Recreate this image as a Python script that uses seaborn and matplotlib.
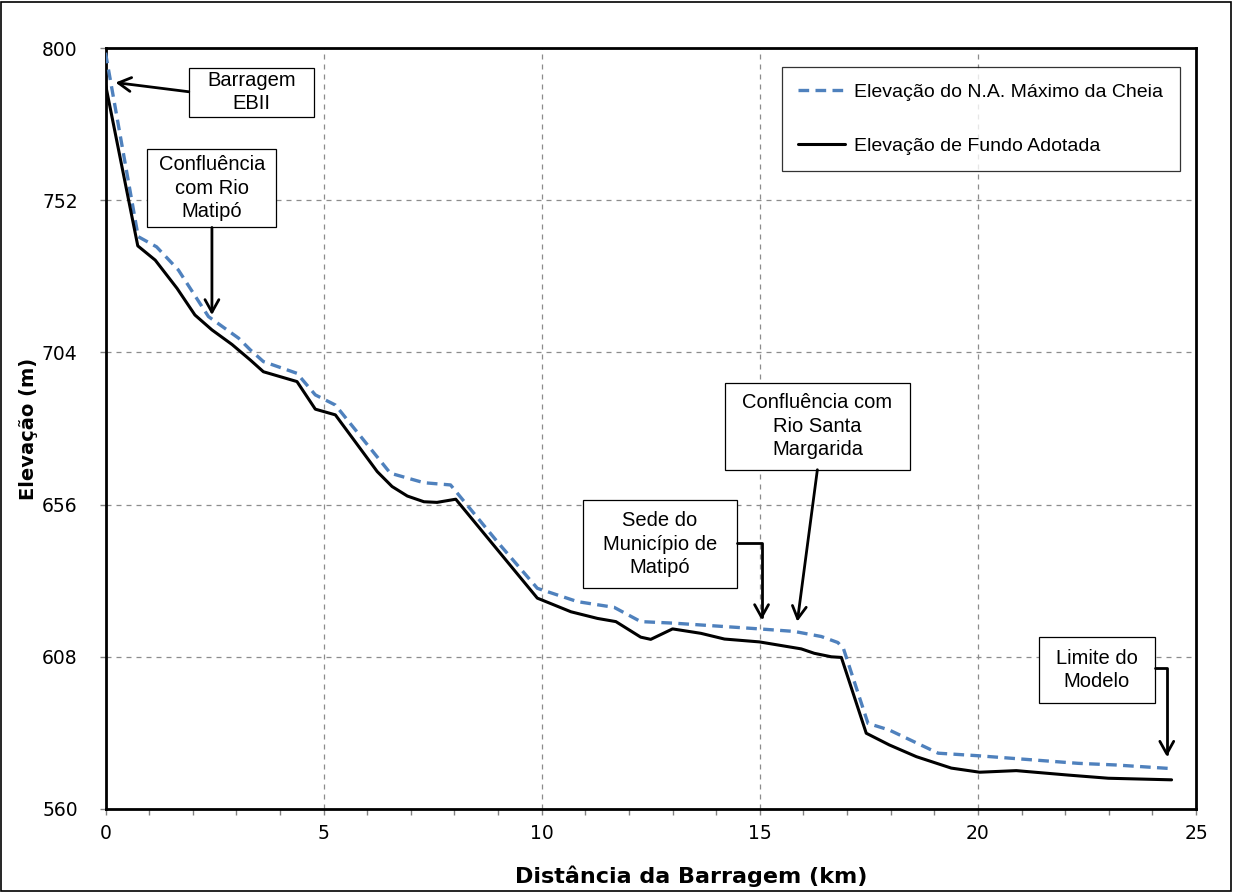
import matplotlib
matplotlib.use("Agg")
import matplotlib.pyplot as plt
import seaborn as sns
import pandas as pd
from matplotlib.patches import Rectangle

# Perfil longitudinal: elevação do N.A. máximo da cheia
km_nivel = [0.0, 0.75, 1.17, 1.67, 2.36, 3.05, 3.32, 3.62, 4.39, 4.81, 5.27,
            6.53, 7.30, 7.91, 9.00, 9.90, 10.82, 11.66, 12.27, 13.04, 14.99,
            15.79, 16.41, 16.79, 16.92, 17.48, 17.97, 19.09, 20.00, 22.30,
            23.14, 24.37]
elev_nivel = [798.5, 740.5, 737.3, 730.0, 715.3, 708.5, 704.8, 701.1, 697.4,
              690.6, 687.4, 665.9, 662.9, 662.2, 644.0, 629.6, 625.4, 623.6,
              619.1, 618.6, 616.8, 616.0, 614.4, 612.5, 610.5, 587.0, 584.9,
              577.6, 576.8, 574.4, 573.9, 572.8]

# Perfil longitudinal: elevação de fundo adotada
km_fundo = [0.0, 0.74, 1.14, 1.64, 2.05, 2.44, 2.90, 3.32, 3.62, 4.39, 4.81,
            5.27, 6.23, 6.57, 6.92, 7.30, 7.60, 8.03, 9.30, 9.90, 10.67, 11.28,
            11.70, 12.27, 12.50, 13.00, 13.65, 14.19, 14.99, 15.95, 16.25,
            16.64, 16.87, 17.44, 17.97, 18.59, 19.39, 20.04, 20.88, 22.07,
            22.99, 24.44]
elev_fundo = [788.5, 737.6, 733.1, 724.2, 715.8, 711.1, 706.5, 701.6, 697.9,
              694.8, 686.1, 684.3, 666.4, 661.7, 658.7, 656.9, 656.7, 657.7,
              636.5, 626.5, 622.2, 620.1, 619.1, 614.2, 613.5, 616.8, 615.4,
              613.6, 612.7, 610.5, 609.1, 608.0, 607.8, 583.9, 580.2, 576.5,
              572.9, 571.6, 572.1, 570.7, 569.7, 569.2]

serie_nivel = "Elevação do N.A. Máximo da Cheia"
serie_fundo = "Elevação de Fundo Adotada"

x_ticks = [0, 5, 10, 15, 20, 25]
y_ticks = [560, 608, 656, 704, 752, 800]

df_nivel = pd.DataFrame({"km": km_nivel, "elev": elev_nivel})
df_fundo = pd.DataFrame({"km": km_fundo, "elev": elev_fundo})

sns.set_style("white")
plt.rcParams["font.family"] = ["Liberation Sans", "DejaVu Sans"]
plt.rcParams["text.color"] = "black"
plt.rcParams["axes.labelcolor"] = "black"
plt.rcParams["xtick.color"] = "black"
plt.rcParams["ytick.color"] = "black"

W, H = 1233, 892
fig = plt.figure(figsize=(W / 100, H / 100), dpi=100)
ax = fig.add_axes([105.5 / W, 1 - 809 / H, (1196 - 105.5) / W, (809 - 48) / H])

sns.lineplot(data=df_nivel, x="km", y="elev", ax=ax, color="#4F81BD",
             lw=2.4, linestyle=(0, (3.2, 1.9)), label=serie_nivel, zorder=3)
sns.lineplot(data=df_fundo, x="km", y="elev", ax=ax, color="black",
             lw=2.2, label=serie_fundo, zorder=4)

ax.set_xlim(0, 25)
ax.set_ylim(560, 800)
ax.set_xticks(x_ticks)
ax.set_xticks(range(0, 26), minor=True)
ax.set_yticks(y_ticks)
ax.set_xticklabels([str(t) for t in x_ticks], fontsize=13.5, family="DejaVu Sans")
ax.set_yticklabels([str(t) for t in y_ticks], fontsize=13.5, family="DejaVu Sans")
ax.tick_params(axis="x", which="both", direction="out", length=4, width=1,
               color="#808080", labelcolor="black", pad=7, bottom=True)
ax.tick_params(axis="y", which="major", direction="out", length=4, width=1,
               color="#808080", labelcolor="black", pad=16, left=True)

ax.set_axisbelow(True)
ax.grid(True, which="major", color="#8c8c8c", linestyle=(0, (4, 4)), lw=0.9)
for sp in ax.spines.values():
    sp.set_color("black")
    sp.set_linewidth(2)
    sp.set_visible(True)

ax.set_xlabel("Distância da Barragem (km)", fontsize=16, fontweight="bold",
              family="DejaVu Sans", color="black")
ax.set_ylabel("Elevação (m)", fontsize=14, fontweight="bold",
              family="DejaVu Sans", color="black")
ax.xaxis.set_label_coords(0.537, -0.074)
ax.yaxis.set_label_coords(-0.062, 0.5)

leg = ax.legend(loc="upper right", bbox_to_anchor=(0.9853, 0.975),
                borderaxespad=0, fontsize=14, frameon=True, fancybox=False,
                edgecolor="black", handlelength=2.4, handletextpad=0.5,
                labelspacing=1.85, borderpad=0.85)
leg.get_frame().set_linewidth(0.9)
leg.set_zorder(6)
for t in leg.get_texts():
    t.set_color("black")

# Caixas de anotação: texto, centro (km, m), largura (km), altura (m)
caixas = [
    ("Barragem\nEBII", (3.35, 786.1), 2.87, 15.5),
    ("Confluência\ncom Rio\nMatipó", (2.44, 755.7), 2.96, 24.6),
    ("Sede do\nMunicípio de\nMatipó", (12.71, 643.5), 3.53, 27.8),
    ("Confluência com\nRio Santa\nMargarida", (16.32, 680.7), 4.24, 27.4),
    ("Limite do\nModelo", (22.73, 603.8), 2.66, 20.8),
]
for texto, (cx, cy), w, h in caixas:
    ax.add_patch(Rectangle((cx - w / 2, cy - h / 2), w, h, facecolor="white",
                           edgecolor="black", lw=0.9, zorder=5))
    ax.text(cx, cy, texto, ha="center", va="center", fontsize=14.5,
            linespacing=1.3, color="black", zorder=6)

seta = dict(arrowstyle="->,head_length=0.45,head_width=0.25", lw=2,
            color="black", shrinkA=0, shrinkB=0, mutation_scale=20)

# Setas retas
ax.annotate("", xy=(0.23, 789.1), xytext=(1.91, 786.2),
            arrowprops=seta, zorder=7)
ax.annotate("", xy=(2.44, 715.8), xytext=(2.44, 743.4),
            arrowprops=seta, zorder=7)
ax.annotate("", xy=(15.86, 619.1), xytext=(16.32, 667.0),
            arrowprops=seta, zorder=7)

# Setas em cotovelo
seta_cotovelo = dict(seta, connectionstyle="angle,angleA=0,angleB=90,rad=0")
ax.annotate("", xy=(15.04, 619.6), xytext=(14.475, 643.8),
            arrowprops=seta_cotovelo, zorder=7)
ax.annotate("", xy=(24.33, 576.5), xytext=(24.06, 604.4),
            arrowprops=seta_cotovelo, zorder=7)

# Moldura externa da figura
fig.patches.append(Rectangle((0.001, 0.001), 0.997, 0.997, transform=fig.transFigure,
                             fill=False, edgecolor="black", lw=1.2))

fig.savefig("out.png", dpi=100)
